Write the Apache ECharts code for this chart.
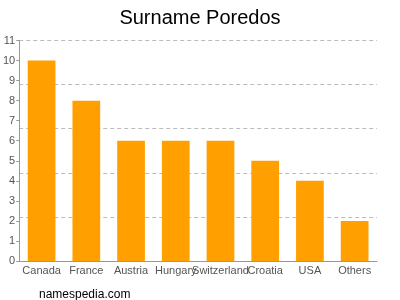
<!DOCTYPE html>
<html><head><meta charset="utf-8">
<script src="https://cdn.jsdelivr.net/npm/echarts@6/dist/echarts.min.js"></script>
<style>html,body{margin:0;padding:0;background:#fff}#c{width:400px;height:300px}</style>
</head><body><div id="c"></div>
<script>
var categories = ["Canada","France","Austria","Hungary","Switzerland","Croatia","USA","Others"];
var values = [10, 8, 6, 6, 6, 5, 4, 2];
var titleText = "Surname Poredos";
var footerText = "namespedia.com";
var chart = echarts.init(document.getElementById('c'));
chart.setOption({
  animation: false,
  title: [
    {text: titleText, left: 'center', top: 3, textStyle: {fontFamily: 'Liberation Sans, Arial', fontSize: 20, fontWeight: 'normal', color: '#000'}},
    {text: footerText, left: 34, top: 284, textStyle: {fontFamily: 'Liberation Sans, Arial', fontSize: 12, fontWeight: 'normal', color: '#000'}}
  ],
  grid: {left: 18, right: 23, top: 40.5, bottom: 39, containLabel: false},
  xAxis: {
    type: 'category', data: categories,
    axisLine: {lineStyle: {color: '#999'}},
    axisTick: {alignWithLabel: true, length: 3, lineStyle: {color: '#999'}},
    axisLabel: {color: '#555', fontSize: 11, fontFamily: 'Liberation Sans, Arial', interval: 0, margin: 4}
  },
  yAxis: [{
    type: 'value', min: 0, max: 11, interval: 1,
    axisLine: {show: true, lineStyle: {color: '#999'}},
    axisTick: {show: true, length: 3, lineStyle: {color: '#999'}},
    axisLabel: {color: '#555', fontSize: 11, fontFamily: 'Liberation Sans, Arial', margin: 4},
    splitLine: {show: false}
  }, {
    type: 'value', min: 0, max: 11, interval: 2.2, position: 'left',
    axisLine: {show: false}, axisTick: {show: false}, axisLabel: {show: false},
    splitLine: {show: true, lineStyle: {color: '#bbb', type: [4, 3], width: 1}}
  }],
  series: [{
    type: 'bar', data: values, yAxisIndex: 0,
    barCategoryGap: '38%',
    itemStyle: {color: '#ffa000'},
    z: 3
  }]
});
</script></body></html>
